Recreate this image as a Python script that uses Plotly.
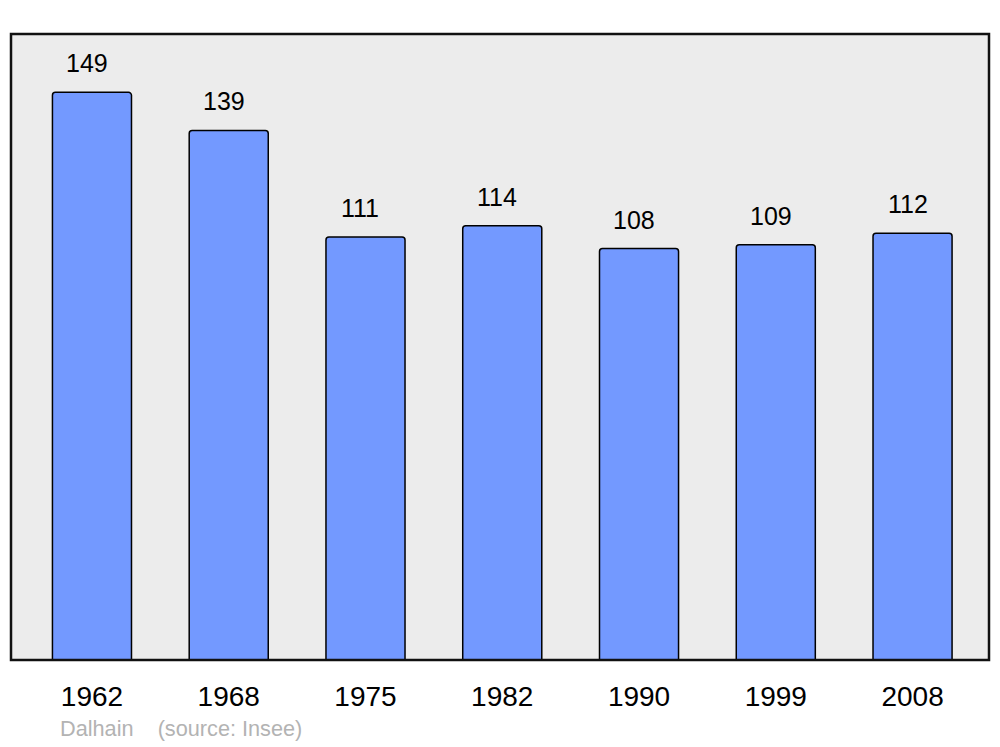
import plotly.graph_objects as go

years = ["1962", "1968", "1975", "1982", "1990", "1999", "2008"]
population = [149, 139, 111, 114, 108, 109, 112]
positions = list(range(len(years)))

FONT = "Liberation Sans, Arial, sans-serif"

fig = go.Figure()
fig.add_trace(go.Bar(
    x=positions, y=population, width=0.578,
    marker=dict(color="#7399ff", line=dict(color="#000000", width=1.5), cornerradius=3),
    hoverinfo="skip",
))
for xp, v in zip(positions, population):
    fig.add_annotation(x=xp, y=v, text=str(v), showarrow=False, yanchor="bottom",
                       yshift=13, xshift=-5, font=dict(family=FONT, size=25, color="#000"))

fig.add_shape(type="rect", xref="paper", yref="paper", x0=0, y0=0, x1=1, y1=1,
              line=dict(color="#111", width=2.5), layer="above")

fig.add_annotation(xref="paper", yref="paper", x=0.0485, y=0, yshift=-83, xanchor="left", yanchor="bottom",
                   text="Dalhain&nbsp;&nbsp;&nbsp;&nbsp;(source: Insee)", showarrow=False,
                   font=dict(family=FONT, size=21.7, color="#b3b3b3"))

fig.update_layout(
    width=1000, height=747,
    margin=dict(l=11, r=11, t=34, b=87),
    paper_bgcolor="#ffffff", plot_bgcolor="#ececec",
    showlegend=False,
    xaxis=dict(range=[-0.592, 6.559], tickvals=positions, ticktext=years, showgrid=False,
               zeroline=False, showline=False, ticks="", ticklabelstandoff=17,
               tickfont=dict(family=FONT, size=28, color="#000")),
    yaxis=dict(range=[0, 164.3], showgrid=False, zeroline=False, showticklabels=False, showline=False),
)
fig.write_html("out.html", config={"displayModeBar": False},
               post_script="document.body.style.margin='0';document.body.style.overflow='hidden';")
